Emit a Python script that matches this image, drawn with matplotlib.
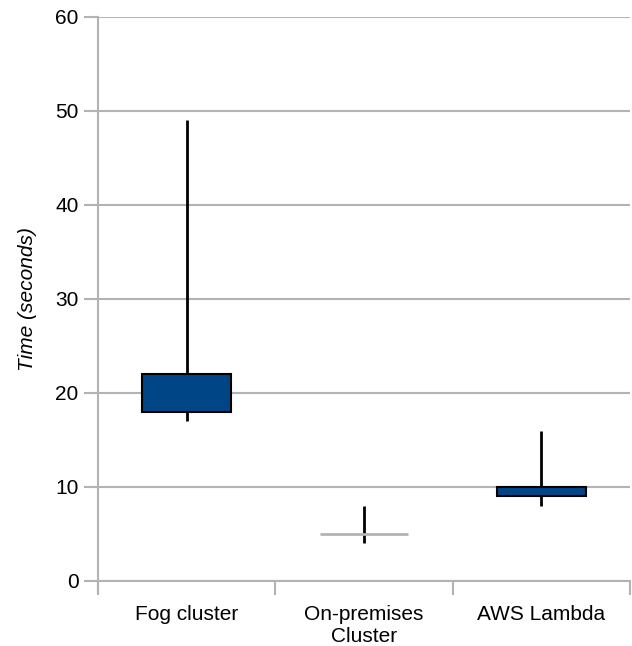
import numpy as np
import matplotlib.pyplot as plt

# box data (seconds)
categories = ["Fog cluster", "On-premises\nCluster", "AWS Lambda"]
whisker_low = [17, 4, 8]
box_low = [18, 5, 9]
box_high = [22, 5, 10]
whisker_high = [49, 8, 16]

plt.rcParams['font.family'] = ['Liberation Sans', 'DejaVu Sans']
grid_col = '#b3b3b3'
box_col = '#004586'
fs = 15

fig = plt.figure(figsize=(6.32, 6.46), dpi=100)
ax = fig.add_axes([98 / 632, 1 - 581 / 646, 532 / 632, 564 / 646])

x = np.arange(len(categories)) + 0.5
ax.vlines(x, whisker_low, whisker_high, color='black', lw=2, zorder=3)
for xi, lo, hi in zip(x, box_low, box_high):
    if hi > lo:
        ax.bar(xi, hi - lo, bottom=lo, width=0.5, color=box_col,
               edgecolor='black', linewidth=1.5, zorder=4)
    else:
        ax.hlines(lo, xi - 0.25, xi + 0.25, color=grid_col, lw=2, zorder=4)

ax.set_xlim(0, len(categories))
ax.set_ylim(0, 60)
ax.set_yticks(range(0, 61, 10))
ax.yaxis.grid(True, color=grid_col, lw=1.5)
ax.set_axisbelow(True)

ax.set_xticks(np.arange(len(categories) + 1))
ax.set_xticklabels([])
ax.set_xticks(x, minor=True)
ax.set_xticklabels(categories, minor=True, fontsize=fs, linespacing=1.2)
ax.tick_params(axis='x', which='minor', length=0, pad=17)
ax.tick_params(axis='x', which='major', length=10, width=1.5, color=grid_col)
ax.tick_params(axis='y', length=10, width=1.5, color=grid_col, labelsize=fs, pad=4)

for s in ['top', 'right']:
    ax.spines[s].set_visible(False)
for s in ['left', 'bottom']:
    ax.spines[s].set_color(grid_col)
    ax.spines[s].set_linewidth(1.5)
ax.spines['left'].set_bounds(-1.2, 60)

ax.set_ylabel('Time (seconds)', fontsize=fs, style='italic', labelpad=13)

fig.savefig('out.png', dpi=100)
